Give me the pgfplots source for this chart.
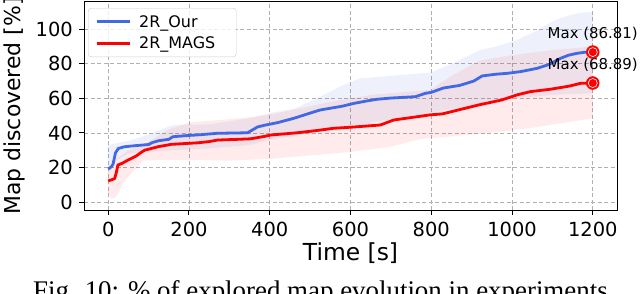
\documentclass[border=0pt]{standalone}
\usepackage{pgfplots}
\pgfplotsset{compat=1.18}
\usepgfplotslibrary{fillbetween}
\usepackage{fontspec}
\setmainfont{DejaVu Sans}
\newfontfamily\capfont{Liberation Serif}
\definecolor{myblue}{RGB}{65,105,225}
\definecolor{myred}{RGB}{255,0,0}
\definecolor{gridgray}{RGB}{176,176,176}

\begin{document}
\begin{tikzpicture}[x=1bp,y=1bp]
\begin{axis}[
  at={(84bp,83bp)}, anchor=south west,
  scale only axis, width=533bp, height=208bp,
  xmin=-60, xmax=1260, ymin=-4.6, ymax=115.8,
  xtick={0,200,400,600,800,1000,1200}, ytick={0,20,40,60,80,100},
  /pgf/number format/assume math mode=true,
  /pgf/number format/1000 sep={},
  tick align=outside, major tick length=5bp,
  xtick pos=bottom, ytick pos=left,
  tick style={black, line width=1bp},
  axis line style={black, line width=1bp},
  grid=major, grid style={gridgray, line width=0.9bp, dash pattern=on 4bp off 2.5bp},
  xticklabel style={font=\fontsize{19.5}{22}\selectfont, inner sep=0pt, anchor=north, yshift=-7bp},
  yticklabel style={font=\fontsize{19.5}{22}\selectfont, inner sep=0pt, anchor=east, xshift=-6bp},
  xlabel={Time [s]}, ylabel={Map discovered [\%]},
  xlabel style={at={(axis description cs:0.5,-0.245)}, anchor=base, font=\fontsize{23.5}{28}\selectfont},
  ylabel style={at={(axis description cs:-0.12,0.5)}, anchor=base, font=\fontsize{22}{26}\selectfont},
  clip=false,
  legend style={at={(axis description cs:0.0075,0.971)}, anchor=north west,
    font=\fontsize{16}{19}\selectfont, draw=black!20, rounded corners=3bp,
    fill=white, fill opacity=0.8, text opacity=1, inner xsep=7bp, inner ysep=5bp, row sep=4bp,
    nodes={inner sep=2bp, text width=88bp, align=left},
    /tikz/every odd column/.append style={column sep=6bp}},
  legend image code/.code={\draw[#1, line width=3bp] (0bp,0bp) -- (33bp,0bp);},
  legend cell align=left,
]
% blue band
\addplot[name path=bu, draw=none, forget plot] coordinates {
(0,33) (20,34) (60,36) (110,40) (160,44.6) (250,45) (350,48.5) (400,51.5) (460,54)
(517,60) (575,67) (624,71.6) (700,73) (773,74.5) (800,75) (850,80) (921,88) (960,90)
(1012,93.8) (1060,99) (1103,105) (1140,108) (1169,109.6) (1200,110)};
\addplot[name path=bl, draw=none, forget plot] coordinates {
(0,16) (20,24) (50,28) (100,29) (160,30) (250,31) (350,33) (400,36) (500,40) (600,44)
(700,48) (800,52) (900,56) (1000,60) (1100,62) (1200,63)};
\addplot[fill=myblue, fill opacity=0.09, draw=none, forget plot] fill between[of=bu and bl];
% red band
\addplot[name path=ru, draw=none, forget plot] coordinates {
(0,18) (10,20) (20,25) (50,30) (100,35) (150,42) (200,46) (300,48) (387,50) (450,53)
(550,58) (650,62) (798,65) (850,73) (921,82) (1000,85) (1100,88) (1200,90)};
\addplot[name path=rl, draw=none, forget plot] coordinates {
(0,5) (8,2) (20,3) (40,12) (70,20) (86,24) (150,24.5) (300,24) (400,25) (500,27)
(600,29) (700,32) (773,36.5) (800,37) (938,39.8) (1050,43) (1200,48.5)};
\addplot[fill=myred, fill opacity=0.08, draw=none, forget plot] fill between[of=ru and rl];
% mean lines
\addplot[myblue, line width=2.8bp] coordinates {
(0,19.1) (8,20.5) (12,22) (18,28.5) (25,31) (40,32) (65,32.6) (100,33.3) (110,34.5)
(125,35.5) (150,36.3) (160,37.8) (190,38.4) (230,39) (270,39.8) (345,40.1) (370,43.5)
(390,44.6) (420,46) (460,48.5) (500,51.5) (525,53.3) (550,54.3) (580,55.5) (608,57.1)
(640,58.5) (666,59.5) (700,60.2) (761,61) (785,62.9) (800,63.5) (830,66) (870,67.5)
(905,70) (926,73) (960,74) (988,74.5) (1021,75.5) (1062,77.4) (1090,79.5) (1120,83.2)
(1140,85) (1161,86.1) (1180,86.7) (1200,86.81)};
\addlegendentry{2R\_Our}
\addplot[myred, line width=2.8bp] coordinates {
(0,12.3) (10,13) (16,13.7) (20,17) (24,21.4) (35,22.5) (49,24.3) (69,26.6) (80,28.5)
(90,30) (123,32) (156,33.4) (222,34.3) (250,35) (271,35.9) (320,36.3) (352,36.6)
(387,38) (402,38.8) (468,40.1) (520,41.5) (558,42.7) (600,43.3) (674,44.6) (690,46)
(707,47.5) (765,49.4) (798,50.5) (827,51) (860,52.9) (917,56.2) (975,59.1) (1012,62)
(1045,63.9) (1095,65.3) (1144,67.2) (1169,68.7) (1200,68.89)};
\addlegendentry{2R\_MAGS}
% max markers
\addplot[only marks, mark=*, mark size=6.5bp, mark options={fill=myred, draw=myred}, forget plot]
  coordinates {(1200,86.81)} node[anchor=base, yshift=14bp, font=\fontsize{15}{18}\selectfont, black] {Max (86.81)};
\addplot[only marks, mark=*, mark size=6.5bp, mark options={fill=myred, draw=myred}, forget plot]
  coordinates {(1200,68.89)} node[anchor=base, yshift=14bp, font=\fontsize{15}{18}\selectfont, black] {Max (68.89)};
\addplot[only marks, mark=o, mark size=4.5bp, mark options={draw=white, line width=0.6bp}, forget plot]
  coordinates {(1200,86.81) (1200,68.89)};
\end{axis}
\node[anchor=base west, inner sep=0pt, font=\capfont\fontsize{27}{32}\selectfont] at (33,-6.6)
  {Fig. 10: \% of explored map evolution in experiments.};
\pgfresetboundingbox
\path[use as bounding box] (0,0) rectangle (640,293);
\end{tikzpicture}
\end{document}
